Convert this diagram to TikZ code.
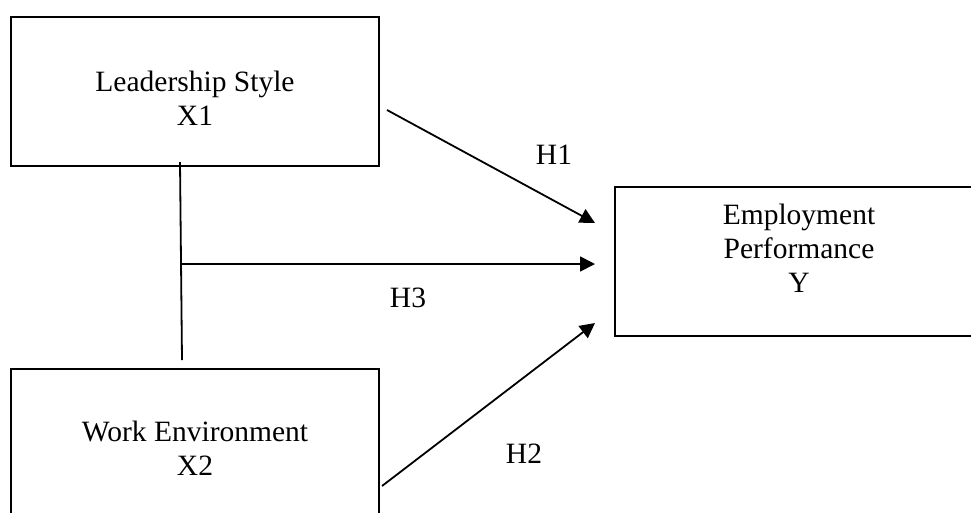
\documentclass[tikz,border=0pt]{standalone}
\usepackage{fontspec}
\setmainfont{Liberation Serif}
\usetikzlibrary{arrows.meta}
\begin{document}
\begin{tikzpicture}[x=1pt,y=-1pt,
  varbox/.style={draw,line width=1.7pt,minimum width=368pt,minimum height=149pt,inner sep=0pt},
  boxtext/.style={align=center,inner sep=0pt,font=\fontsize{29.5}{34}\selectfont},
  hlabel/.style={inner sep=0pt,anchor=base,font=\fontsize{29.5}{34}\selectfont},
  conn/.style={line width=1.8pt},
  arr/.style={conn,-{Triangle[length=15pt,width=15pt]}}]
\useasboundingbox (0,0) rectangle (971,512);
\clip (0,0) rectangle (971,512);
% boxes
\node[varbox] (x1) at (195,91.5) {};
\node[varbox] (y) at (799,261.5) {};
\node[varbox] (x2) at (195,443.5) {};
% texts
\node[boxtext] (x1t) at (195,98) {Leadership Style\\X1};
\node[boxtext] (yt) at (799,248.5) {Employment\\Performance\\Y};
\node[boxtext] (x2t) at (195,448.5) {Work Environment\\X2};
% connector ends
\coordinate (h1s) at (387,110);
\coordinate (h1e) at (595,223);
\coordinate (vtop) at (180,162);
\coordinate (vbot) at (182,360);
\coordinate (h3s) at (181,264);
\coordinate (h3e) at (595,264);
\coordinate (h2s) at (382,486);
\coordinate (h2e) at (595,323);
% connectors
\draw[arr] (h1s) -- (h1e);
\draw[conn] (vtop) -- (vbot);
\draw[arr] (h3s) -- (h3e);
\draw[arr] (h2s) -- (h2e);
% labels
\node[hlabel] (l1) at (554,164) {H1};
\node[hlabel] (l3) at (408,307) {H3};
\node[hlabel] (l2) at (524,463) {H2};
\end{tikzpicture}
\end{document}
